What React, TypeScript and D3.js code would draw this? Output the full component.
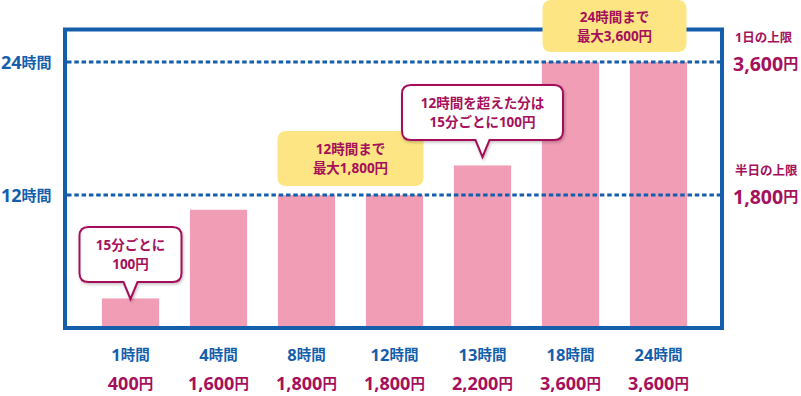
import React from "react";
import * as d3 from "d3";

// 利用時間と料金
const hours = ["1", "4", "8", "12", "13", "18", "24"];
const prices = [400, 1600, 1800, 1800, 2200, 3600, 3600];

// 上限ライン
const limitHours = ["24", "12"];
const limitPrices = [3600, 1800];
const limitLabels = ["1日の上限", "半日の上限"];

// 吹き出し
const calloutLines = [
  ["15分ごとに", "100円"],
  ["12時間まで", "最大1,800円"],
  ["12時間を超えた分は", "15分ごとに100円"],
  ["24時間まで", "最大3,600円"],
];
const calloutKinds = ["note", "max", "note", "max"];
// 吹き出しを付ける棒（.5 は棒と棒の間）
const calloutAnchors = [0, 2.5, 4, 5.5];

const W = 801;
const H = 396;
const frame = { left: 65, right: 722, top: 29.5, bottom: 328 };

const BLUE = "#145eab";
const CRIMSON = "#a50f5b";
const PINK = "#f19db6";
const YELLOW = "#fde583";
const FONT = "'Noto Sans', 'Noto Sans CJK JP', sans-serif";

// 吹き出しの大きさと位置
const calloutLayout = [
  { w: 102, h: 55, top: 227, tip: 17 },
  { w: 146, h: 55, top: 131, tip: 0 },
  { w: 161, h: 55, top: 85, tip: 17 },
  { w: 144, h: 52, top: 0, tip: 0 },
];

function bubblePath(x: number, y: number, w: number, h: number, r: number, cx: number, tip: number) {
  const hw = 7;
  const b = y + h;
  let p = `M${x + r},${y} H${x + w - r} Q${x + w},${y} ${x + w},${y + r} V${b - r} Q${x + w},${b} ${x + w - r},${b}`;
  if (tip > 0) p += ` H${cx + hw} L${cx},${b + tip} L${cx - hw},${b}`;
  p += ` H${x + r} Q${x},${b} ${x},${b - r} V${y + r} Q${x},${y} ${x + r},${y} Z`;
  return p;
}

export default function App() {
  const x = d3.scaleBand<string>().domain(hours).range([86.5, 702.5]).paddingInner(0.35).paddingOuter(0.175);
  const y = d3.scaleLinear().domain([0, 3600]).range([frame.bottom, 62]);
  const center = (i: number) => x(hours[i])! + x.bandwidth() / 2;
  const anchorX = (a: number) => {
    const lo = Math.floor(a);
    const hi = Math.ceil(a);
    return (center(lo) + center(hi)) / 2;
  };

  return (
    <svg width={W} height={H} style={{ position: "absolute", left: 0, top: 0, fontFamily: FONT, fontWeight: 700 }}>
      <defs>
        <filter id="sh" x="-10%" y="-10%" width="130%" height="140%">
          <feDropShadow dx="1" dy="1.5" stdDeviation="1.5" floodColor="#000" floodOpacity="0.25" />
        </filter>
      </defs>
      <rect width={W} height={H} fill="#fff" />

      {/* 棒 */}
      {prices.map((p, i) => (
        <rect key={i} x={x(hours[i])} y={y(p)} width={x.bandwidth()} height={y(0) - y(p)} fill={PINK} />
      ))}

      {/* 枠 */}
      <rect
        x={frame.left}
        y={frame.top}
        width={frame.right - frame.left}
        height={frame.bottom - frame.top}
        fill="none"
        stroke={BLUE}
        strokeWidth={4}
      />

      {/* 上限ライン */}
      {limitPrices.map((p, i) => (
        <g key={i}>
          <line
            x1={frame.left + 2}
            x2={frame.right - 2}
            y1={y(p)}
            y2={y(p)}
            stroke={BLUE}
            strokeWidth={3}
            strokeDasharray="4.5 2.8"
          />
          <text x={1} y={y(p)} dominantBaseline="central" fill={BLUE}>
            <tspan fontSize={18}>{limitHours[i]}</tspan>
            <tspan fontSize={15}>時間</tspan>
          </text>
          <text x={735} y={y(p) - 25} dominantBaseline="central" fill={CRIMSON} fontSize={12.5}>
            {limitLabels[i]}
          </text>
          <text x={733} y={y(p) + 1} dominantBaseline="central" fill={CRIMSON}>
            <tspan fontSize={19.5}>{d3.format(",")(p)}</tspan>
            <tspan fontSize={15}>円</tspan>
          </text>
        </g>
      ))}

      {/* 吹き出し */}
      {calloutLines.map((lines, i) => {
        const L = calloutLayout[i];
        const cx = anchorX(calloutAnchors[i]);
        const bx = cx - L.w / 2;
        const note = calloutKinds[i] === "note";
        const mid = L.top + L.h / 2;
        return (
          <g key={i}>
            <path
              d={bubblePath(bx, L.top, L.w, L.h, 9, cx, L.tip)}
              fill={note ? "#fff" : YELLOW}
              stroke={note ? CRIMSON : "none"}
              strokeWidth={2}
              filter={note ? "url(#sh)" : undefined}
            />
            {lines.map((t, j) => (
              <text
                key={j}
                x={cx}
                y={mid + (j === 0 ? -9.5 : 9.5)}
                textAnchor="middle"
                dominantBaseline="central"
                fill={CRIMSON}
                fontSize={13.5}
              >
                {t}
              </text>
            ))}
          </g>
        );
      })}

      {/* 横軸ラベル */}
      {hours.map((h, i) => (
        <g key={i}>
          <text x={center(i)} y={354} textAnchor="middle" dominantBaseline="central" fill={BLUE}>
            <tspan fontSize={16.5}>{h}</tspan>
            <tspan fontSize={14.5}>時間</tspan>
          </text>
          <text x={center(i)} y={383} textAnchor="middle" dominantBaseline="central" fill={CRIMSON}>
            <tspan fontSize={18}>{d3.format(",")(prices[i])}</tspan>
            <tspan fontSize={14.5}>円</tspan>
          </text>
        </g>
      ))}
    </svg>
  );
}
